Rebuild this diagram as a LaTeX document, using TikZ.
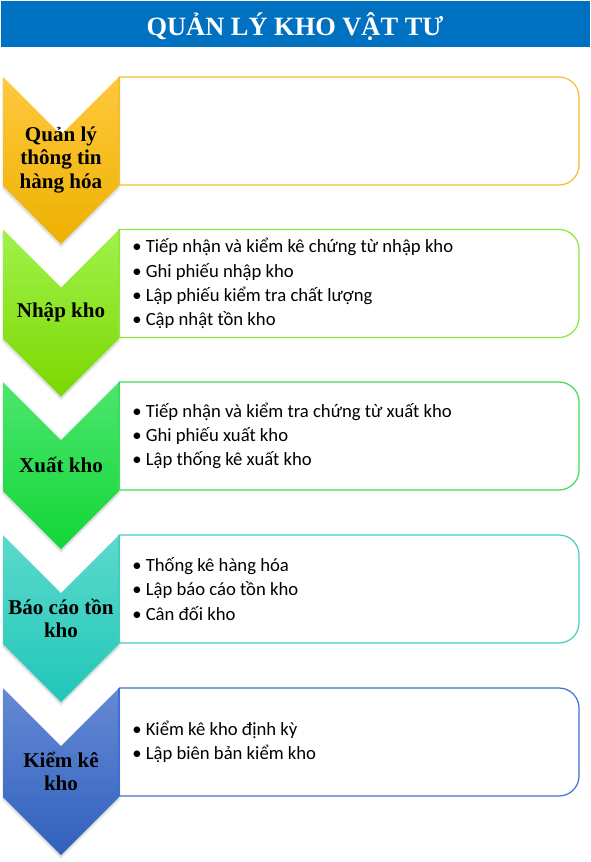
\documentclass[tikz,border=0pt]{standalone}
\usepackage{fontspec}
\setmainfont{Carlito}
\newfontfamily\hfont{Liberation Serif}
\definecolor{titleblue}{HTML}{0070C0}
\definecolor{ctA}{HTML}{FFC83E}\definecolor{cbA}{HTML}{EDB100}\definecolor{clA}{HTML}{F2BE2E}
\definecolor{ctB}{HTML}{A0F24C}\definecolor{cbB}{HTML}{7BD800}\definecolor{clB}{HTML}{8FE63C}
\definecolor{ctC}{HTML}{4CE66E}\definecolor{cbC}{HTML}{12D637}\definecolor{clC}{HTML}{3CDC5A}
\definecolor{ctD}{HTML}{5CD9CC}\definecolor{cbD}{HTML}{20C7B9}\definecolor{clD}{HTML}{45CCBE}
\definecolor{ctE}{HTML}{6589D4}\definecolor{cbE}{HTML}{3061BD}\definecolor{clE}{HTML}{3F6FCF}
\newcommand\mychev[5]{%
  % #1 top, #2 top colour, #3 bottom colour, #4 line colour, #5 name
  \fill[black,opacity=0.06] (1.5,#1+1.5) -- (61,#1+61) -- (120.5,#1+1.5) -- (120.5,#1+112) -- (61,#1+171) -- (1.5,#1+112) -- cycle;
  \fill[black,opacity=0.08] (3,#1+2.5) -- (61,#1+60.5) -- (119,#1+2.5) -- (119,#1+111.5) -- (61,#1+169.5) -- (3,#1+111.5) -- cycle;
  \shade[top color=#2,bottom color=#3] (3,#1) -- (61,#1+58) -- (119,#1) -- (119,#1+109) -- (61,#1+167) -- (3,#1+109) -- cycle;
  \fill[white] (120.5,#1+1) rectangle (578,#1+107);
  \draw[boxline,draw=#4,rounded corners=15] (119,#1) -- (579,#1) -- (579,#1+108) -- (119,#1+108);
  \draw[boxline,draw=#4] (119,#1) -- (119,#1+108);
  \coordinate (#5-h) at (61,#1+83);
  \coordinate (#5-b) at (132,#1+54);
}
\tikzset{
  boxline/.style={line width=0.9pt},
  head/.style={font=\hfont\bfseries\fontsize{15.8}{17.3}\selectfont, align=center, text=black, inner sep=0pt},
  items/.style={font=\fontsize{14}{18.2}\selectfont, align=left, anchor=west, inner sep=0pt, text=black},
}
\begin{document}
\begin{tikzpicture}[x=0.75pt,y=-0.75pt]
\useasboundingbox (0,0) rectangle (590,862);
\fill[white] (0,0) rectangle (590,862);
\fill[titleblue] (1,1) rectangle (590,47.5);
\node[font=\hfont\bfseries\fontsize{19.8}{22}\selectfont, text=white, anchor=base, inner sep=0pt] (title) at (295,35.5) {QUẢN LÝ KHO VẬT TƯ};

\mychev{77}{ctA}{cbA}{clA}{s1}
\mychev{229.5}{ctB}{cbB}{clB}{s2}
\mychev{382}{ctC}{cbC}{clC}{s3}
\mychev{535}{ctD}{cbD}{clD}{s4}
\mychev{688}{ctE}{cbE}{clE}{s5}

\node[head] (h1) at (s1-h) {Quản lý\\thông tin\\hàng hóa};
\node[head] (h2) at (s2-h) {Nhập kho};
\node[head] (h3) at (s3-h) {Xuất kho};
\node[head] (h4) at (s4-h) {Báo cáo tồn\\kho};
\node[head] (h5) at (s5-h) {Kiểm kê\\kho};

\node[items] (b2) at (s2-b) {• Tiếp nhận và kiểm kê chứng từ nhập kho\\• Ghi phiếu nhập kho\\• Lập phiếu kiểm tra chất lượng\\• Cập nhật tồn kho};
\node[items] (b3) at (s3-b) {• Tiếp nhận và kiểm tra chứng từ xuất kho\\• Ghi phiếu xuất kho\\• Lập thống kê xuất kho};
\node[items] (b4) at (s4-b) {• Thống kê hàng hóa\\• Lập báo cáo tồn kho\\• Cân đối kho};
\node[items] (b5) at (s5-b) {• Kiểm kê kho định kỳ\\• Lập biên bản kiểm kho};
\end{tikzpicture}
\end{document}
